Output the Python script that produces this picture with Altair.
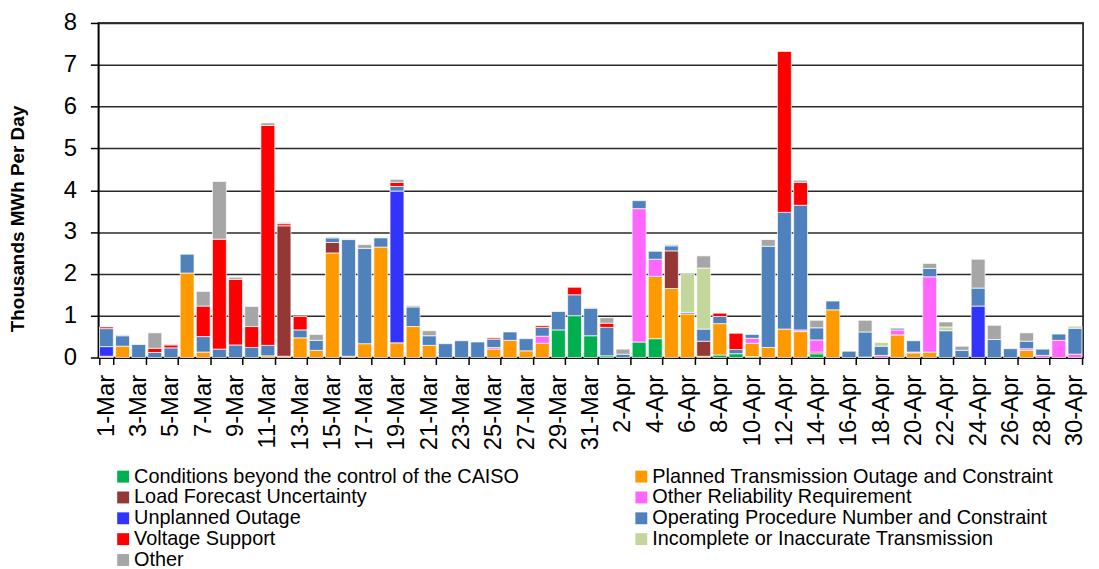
import altair as alt
import pandas as pd

mar = [f"{d}-Mar" for d in range(1, 32)]
apr = [f"{d}-Apr" for d in range(1, 31)]
days = mar + apr

categories = [
    "Conditions beyond the control of the CAISO",
    "Planned Transmission Outage and Constraint",
    "Load Forecast Uncertainty",
    "Other Reliability Requirement",
    "Unplanned Outage",
    "Operating Procedure Number and Constraint",
    "Voltage Support",
    "Incomplete or Inaccurate Transmission",
    "Other",
]
colors = ["#00B050", "#FF9900", "#953735", "#FF66FF", "#3333FF",
          "#4F81BD", "#FF0000", "#C3D69B", "#A6A6A6"]
# legend reads down the columns: left column first, then right column
legend_order = [0, 2, 4, 6, 8, 1, 3, 5, 7]

conditions = [0, 0, 0, 0, 0, 0, 0, 0, 0, 0,
              0, 0, 0, 0, 0, 0, 0, 0, 0, 0,
              0, 0, 0, 0, 0, 0, 0, 0, 0.66, 1.0, 0.52,
              0.04, 0, 0.37, 0.45, 0, 0, 0, 0.06, 0.09, 0.02,
              0, 0, 0, 0.09, 0, 0, 0, 0, 0, 0,
              0, 0, 0, 0, 0, 0, 0, 0, 0, 0]
planned = [0.03, 0.27, 0, 0, 0, 2.02, 0.13, 0, 0, 0,
           0.04, 0.03, 0.47, 0.17, 2.5, 0.03, 0.33, 2.64, 0.35, 0.74,
           0.29, 0, 0, 0, 0.2, 0.41, 0.16, 0.34, 0, 0, 0,
           0, 0, 0, 1.49, 1.65, 1.04, 0.03, 0.75, 0, 0.32,
           0.24, 0.68, 0.62, 0, 1.14, 0, 0, 0, 0.54, 0.11,
           0.13, 0, 0, 0, 0, 0, 0.17, 0, 0, 0]
load_forecast = [0, 0, 0, 0, 0, 0, 0, 0, 0, 0,
                 0, 3.12, 0, 0, 0.25, 0, 0, 0, 0, 0,
                 0, 0, 0, 0, 0, 0, 0, 0, 0, 0, 0,
                 0, 0, 0, 0, 0.9, 0, 0.36, 0, 0, 0,
                 0, 0, 0, 0.04, 0, 0, 0.01, 0, 0, 0,
                 0, 0, 0, 0, 0, 0, 0, 0, 0, 0]
other_reliability = [0, 0, 0, 0, 0, 0, 0, 0, 0, 0,
                     0, 0, 0, 0, 0, 0, 0, 0, 0, 0,
                     0, 0, 0, 0, 0.04, 0, 0, 0.17, 0, 0, 0,
                     0, 0, 3.19, 0.41, 0, 0, 0, 0, 0, 0.12,
                     0, 0, 0.04, 0.29, 0, 0, 0, 0.05, 0.12, 0.02,
                     1.8, 0, 0, 0, 0, 0, 0.04, 0.05, 0.41, 0.08]
unplanned = [0.23, 0, 0, 0, 0, 0, 0, 0, 0, 0,
             0, 0, 0, 0, 0, 0, 0, 0, 3.63, 0,
             0, 0, 0, 0, 0, 0, 0, 0, 0, 0, 0,
             0, 0, 0, 0, 0, 0, 0, 0, 0, 0,
             0, 0, 0, 0, 0, 0, 0, 0, 0, 0,
             0, 0, 0, 1.23, 0, 0, 0, 0, 0, 0]
operating = [0.43, 0.25, 0.31, 0.12, 0.23, 0.45, 0.37, 0.2, 0.3, 0.24,
             0.25, 0, 0.19, 0.24, 0.11, 2.79, 2.28, 0.22, 0.11, 0.47,
             0.23, 0.33, 0.4, 0.37, 0.2, 0.2, 0.29, 0.21, 0.44, 0.5, 0.66,
             0.68, 0.08, 0.19, 0.19, 0.12, 0.04, 0.29, 0.17, 0.1, 0.09,
             2.42, 2.79, 2.98, 0.29, 0.21, 0.15, 0.6, 0.22, 0.04, 0.27,
             0.2, 0.64, 0.17, 0.43, 0.43, 0.21, 0.18, 0.15, 0.15, 0.62]
voltage = [0.04, 0, 0, 0.1, 0.07, 0, 0.73, 2.63, 1.57, 0.5,
           5.26, 0.05, 0.32, 0, 0, 0, 0, 0, 0.1, 0,
           0, 0, 0, 0, 0.03, 0, 0, 0.04, 0, 0.18, 0,
           0.1, 0, 0, 0, 0, 0, 0, 0.08, 0.39, 0,
           0, 3.85, 0.55, 0, 0, 0, 0, 0, 0, 0,
           0, 0, 0, 0, 0, 0, 0, 0, 0, 0]
incomplete = [0, 0, 0, 0, 0, 0, 0, 0, 0, 0,
              0, 0, 0, 0, 0, 0, 0, 0, 0, 0,
              0, 0, 0, 0, 0, 0, 0, 0, 0, 0, 0.02,
              0, 0, 0, 0, 0, 0.91, 1.46, 0, 0, 0,
              0, 0, 0, 0, 0, 0, 0, 0.09, 0, 0,
              0, 0.09, 0, 0, 0, 0, 0, 0, 0, 0.05]
other = [0, 0.02, 0, 0.37, 0.02, 0, 0.35, 1.38, 0.05, 0.48,
         0.06, 0.03, 0, 0.14, 0.02, 0.02, 0.09, 0, 0.07, 0.03,
         0.12, 0, 0, 0, 0, 0, 0, 0, 0, 0, 0,
         0.13, 0.12, 0, 0, 0.03, 0, 0.29, 0, 0, 0,
         0.16, 0, 0.05, 0.18, 0, 0, 0.28, 0, 0, 0,
         0.12, 0.12, 0.1, 0.69, 0.34, 0, 0.2, 0, 0, 0]

series = [conditions, planned, load_forecast, other_reliability, unplanned,
          operating, voltage, incomplete, other]

rows = []
for ci, (cat, vals) in enumerate(zip(categories, series)):
    for day, v in zip(days, vals):
        if v > 0:
            rows.append({"day": day, "category": cat, "value": v, "ord": ci})
df = pd.DataFrame(rows)

label_days = days[::2]
legend_domain = [categories[i] for i in legend_order]
legend_colors = [colors[i] for i in legend_order]
FONT = "Liberation Sans"

chart = alt.Chart(df).mark_bar(stroke="white", strokeWidth=0.7).encode(
    x=alt.X("day:N", sort=days, title="",
            scale=alt.Scale(domain=days, paddingInner=0.14, paddingOuter=0.07),
            axis=alt.Axis(values=label_days, labelAngle=270, labelAlign="right",
                          labelBaseline="middle", labelFontSize=24, labelFont=FONT,
                          labelColor="black", tickBand="extent", tickSize=7,
                          tickColor="black", tickWidth=1.5, labelPadding=10,
                          domainColor="black", domainWidth=1.5, grid=False,
                          labelOverlap=False)),
    y=alt.Y("value:Q", stack="zero",
            scale=alt.Scale(domain=[0, 8], nice=False),
            axis=alt.Axis(values=[0, 1, 2, 3, 4, 5, 6, 7, 8], title="Thousands MWh Per Day",
                          titleFont=FONT, titleFontSize=19, titleFontWeight="bold",
                          titleColor="black", titleAngle=270, titleX=-81, titleY=197,
                          titleAlign="center", titleBaseline="middle",
                          labelFont=FONT, labelFontSize=24, labelColor="black",
                          tickSize=8, tickColor="black", tickWidth=1.5, labelPadding=14,
                          domainColor="black", domainWidth=1.5,
                          grid=True, gridColor="#2a2a2a", gridWidth=1.5)),
    color=alt.Color("category:N",
                    scale=alt.Scale(domain=legend_domain, range=legend_colors),
                    legend=alt.Legend(title=None, orient="none", legendX=15, legendY=447,
                                      columns=2, columnPadding=112, rowPadding=1,
                                      symbolType="square", symbolSize=144,
                                      symbolStrokeWidth=0, labelFont=FONT,
                                      labelFontSize=20, labelColor="black",
                                      labelLimit=600, labelOffset=1)),
    order=alt.Order("ord:Q", sort="ascending"),
).properties(
    width=992, height=337,
    autosize=alt.AutoSizeParams(type="none"),
    padding={"left": 91, "top": 13, "right": 8, "bottom": 211},
).configure_view(stroke="black", strokeWidth=1.5)

chart.save("out.html", embed_options={"renderer": "svg", "actions": False})
